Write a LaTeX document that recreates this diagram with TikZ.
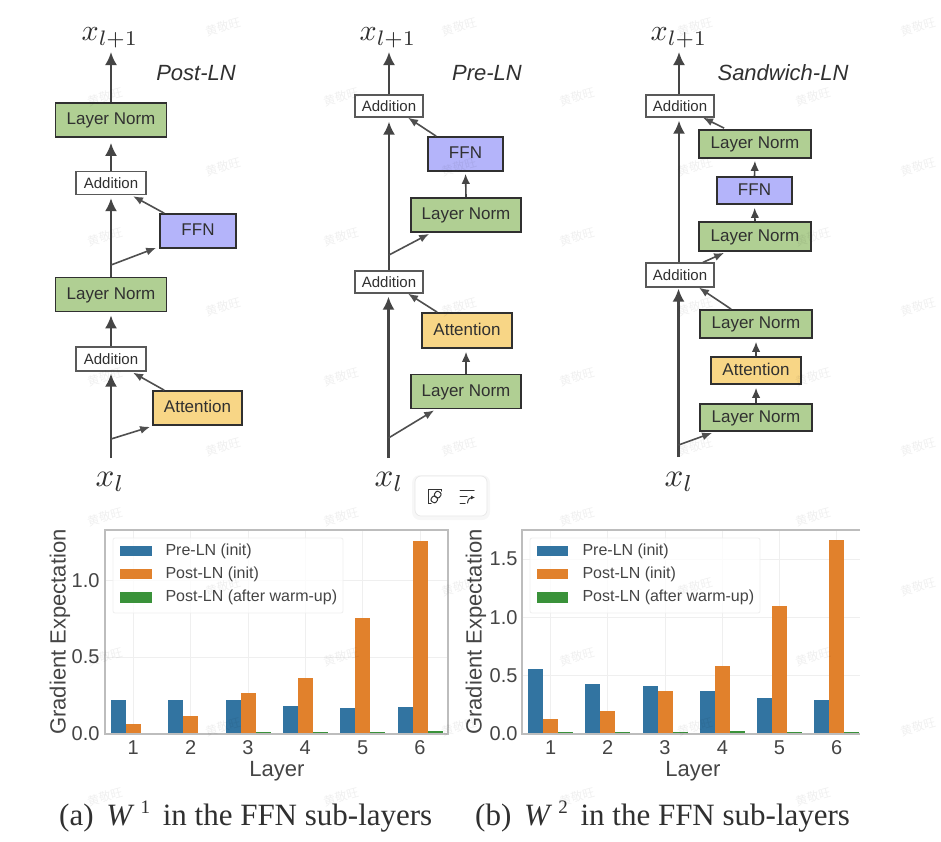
\documentclass[tikz,border=0pt]{standalone}
\usepackage{fontspec}
\setmainfont{Liberation Serif}
\setsansfont{Liberation Sans}
\newfontfamily\cjk{Noto Sans CJK SC}
\usetikzlibrary{arrows.meta,calc}
\definecolor{ink}{HTML}{303030}
\definecolor{lngreen}{HTML}{B0CF93}
\definecolor{ffnblue}{HTML}{B4B4FA}
\definecolor{attyellow}{HTML}{F8D686}
\definecolor{barblue}{HTML}{3274A1}
\definecolor{barorange}{HTML}{E1812C}
\definecolor{bargreen}{HTML}{3A923A}
\definecolor{gridc}{HTML}{EFEFEF}
\definecolor{framec}{HTML}{BDBDBD}
\tikzset{
  every node/.style={text=ink},
  flowbox/.style={draw=ink,line width=1.7pt,font=\sffamily\fontsize{17}{20}\selectfont,inner sep=0pt,text height=12.5pt,text depth=3.5pt,anchor=center},
  lnbox/.style={flowbox,fill=lngreen,minimum width=111pt,minimum height=34pt},
  lnslim/.style={flowbox,fill=lngreen,minimum width=111pt,minimum height=28pt},
  ffnbox/.style={flowbox,fill=ffnblue},
  attbox/.style={flowbox,fill=attyellow},
  addbox/.style={draw=ink!80,line width=1.3pt,fill=white,font=\sffamily\fontsize{15}{18}\selectfont,inner sep=0pt,text height=11pt,text depth=0pt,minimum width=68pt,minimum height=22pt},
  conn/.style={draw=ink!90,line width=2.2pt,-{Latex[length=13pt,width=12pt]}},
  slimconn/.style={draw=ink!90,line width=1.6pt,-{Latex[length=10pt,width=8.5pt]}},
  diagconn/.style={draw=ink!85,line width=1.6pt,-{Latex[length=10pt,width=8pt]}},
  titlelab/.style={font=\sffamily\itshape\fontsize{22}{24}\selectfont},
  ticklab/.style={font=\sffamily\fontsize{20}{22}\selectfont,text=ink!90},
  axislab/.style={font=\sffamily\fontsize{22}{24}\selectfont,text=ink!90},
  leglab/.style={font=\sffamily\fontsize{16}{18}\selectfont,anchor=west,text=ink!90},
  captionlab/.style={font=\fontsize{31}{33}\selectfont,anchor=base west,inner sep=0pt},
  wmark/.style={font=\cjk\fontsize{12}{14}\selectfont,text=black,opacity=.06,rotate=15},
  gridl/.style={draw=gridc,line width=1pt},
  framel/.style={draw=framec,line width=1.2pt},
}
\newcommand{\capW}[1]{\hspace{5pt}\textit{W}\hspace{6pt}\raisebox{12pt}{\fontsize{19}{20}\selectfont #1}\hspace{5pt}}
\begin{document}
\begin{tikzpicture}[x=1pt,y=-1pt]
\useasboundingbox (0,0) rectangle (941,841);
\fill[white] (0,0) rectangle (941,841);

%% ---------- Post-LN
\node[titlelab] (t1) at (196,73) {Post-LN};
\node (top1) at (110,38) {\scalebox{3}{$x_{l+1}$}};
\node (bot1) at (110,482) {\scalebox{3.3}{$x_l$}};
\node[lnbox] (a1) at (111,120) {Layer Norm};
\node[addbox,minimum width=70pt,minimum height=23pt] (a2) at (111,183) {Addition};
\node[ffnbox,minimum width=76pt,minimum height=34pt] (a3) at (198,231) {FFN};
\node[lnbox] (a4) at (111,294.5) {Layer Norm};
\node[addbox,minimum width=70pt,minimum height=24pt] (a5) at (111,359) {Addition};
\node[attbox,minimum width=89pt,minimum height=34pt] (a6) at (197.5,408) {Attention};
\coordinate (a7) at (111,458);
\coordinate (a8) at (111,439);
\coordinate (a9) at (111,265);
\coordinate (a10) at (111,52);
\draw[conn] (a1.north) -- (a10);
\draw[conn,shorten >=5pt] (a2.north) -- (a1.south);
\draw[conn,shorten >=3pt] (a4.north) -- (a2.south);
\draw[conn,shorten >=3pt] (a5.north) -- (a4.south);
\draw[conn,shorten >=2pt] (a7) -- (a5.south);
\draw[diagconn] ($(a3.north west)+(5,0)$) -- ($(a2.south)+(22,1)$);
\draw[diagconn] (a9) -- ($(a3.south west)+(-3,-1)$);
\draw[diagconn] ($(a6.north west)+(12,0)$) -- ($(a5.south)+(22,1)$);
\draw[diagconn] (a8) -- ($(a6.south west)+(-2,1)$);

%% ---------- Pre-LN
\node[titlelab] (t2) at (487,73) {Pre-LN};
\node (top2) at (388,38) {\scalebox{3}{$x_{l+1}$}};
\node (bot2) at (389,482) {\scalebox{3.3}{$x_l$}};
\node[addbox] (b1) at (389,106) {Addition};
\node[ffnbox,minimum width=75pt,minimum height=34pt] (b2) at (465.5,154) {FFN};
\node[lnbox,minimum width=110pt] (b3) at (466,215) {Layer Norm};
\node[addbox] (b4) at (389,282) {Addition};
\node[attbox,minimum width=90pt,minimum height=35pt] (b5) at (467,330.5) {Attention};
\node[lnbox,minimum width=110pt] (b6) at (466,391.5) {Layer Norm};
\coordinate (b7) at (388.5,458);
\coordinate (b8) at (388.5,438);
\coordinate (b9) at (389,255);
\coordinate (b10) at (389,52);
\draw[conn] (b1.north) -- (b10);
\draw[conn,shorten >=4pt] (b4.north) -- (b1.south);
\draw[conn,shorten >=3pt] (b7) -- (b7 |- b4.south);
\draw[diagconn] ($(b2.north west)+(9,0)$) -- ($(b1.south)+(19,0)$);
\draw[slimconn,shorten >=2pt] (b3.north) -- (b2.south);
\draw[diagconn] (b9) -- ($(b3.south west)+(19,1)$);
\draw[diagconn] ($(b5.north west)+(16,0)$) -- ($(b4.south)+(19,0)$);
\draw[slimconn,shorten >=3pt] (b6.north) -- (b6.north |- b5.south);
\draw[diagconn] (b8) -- ($(b6.south west)+(24,1)$);

%% ---------- Sandwich-LN
\node[titlelab] (t3) at (783,73) {Sandwich-LN};
\node (top3) at (679,38) {\scalebox{3}{$x_{l+1}$}};
\node (bot3) at (679,482) {\scalebox{3.3}{$x_l$}};
\node[addbox] (c1) at (680,106) {Addition};
\node[lnslim,minimum width=112pt] (c2) at (755,144) {Layer Norm};
\node[ffnbox,minimum width=75pt,minimum height=27pt] (c3) at (754.5,190.5) {FFN};
\node[lnslim,minimum width=112pt,minimum height=29pt] (c4) at (755,236.5) {Layer Norm};
\node[addbox,minimum height=24pt] (c5) at (680,275) {Addition};
\node[lnslim,minimum width=112pt] (c6) at (756,324) {Layer Norm};
\node[attbox,minimum width=90pt,minimum height=27pt] (c7) at (756,370.5) {Attention};
\node[lnslim,minimum width=112pt,minimum height=27pt] (c8) at (756,417.5) {Layer Norm};
\coordinate (c9) at (678.5,457);
\coordinate (c10) at (678.5,445);
\coordinate (c11) at (679,52);
\draw[conn] (c1.north -| c11) -- (c11);
\draw[conn,shorten >=3pt] (c5.north -| c11) -- (c1.south -| c11);
\draw[conn,shorten >=1pt] (c9) -- (c9 |- c5.south);
\draw[diagconn] ($(c2.north west)+(26,-1)$) -- ($(c1.south)+(23,0)$);
\draw[slimconn,shorten >=2pt] (c3.north) -- (c2.south);
\draw[slimconn,shorten >=3pt] (c4.north) -- (c3.south);
\draw[diagconn] ($(c5.north)+(23,0)$) -- ($(c4.south west)+(26,1)$);
\draw[diagconn] ($(c6.north west)+(32,0)$) -- ($(c5.south)+(19,0)$);
\draw[slimconn,shorten >=3pt] (c7.north) -- (c6.south);
\draw[slimconn,shorten >=3pt] (c8.north) -- (c7.south);
\draw[diagconn] (c10) -- ($(c8.south west)+(13,1)$);

%% ---------- chart (a)
\foreach \g in {133.3,190.7,248,305.3,362.7,420} \draw[gridl] (\g,530) -- (\g,734);
\foreach \g in {657,580.7} \draw[gridl] (105,\g) -- (448,\g);
\foreach \c/\h in {133.3/.22,190.7/.222,248/.22,305.3/.18,362.7/.172,420/.176}
  \fill[barblue] (\c-22.5,734) rectangle (\c-7.5,734-153.3*\h);
\foreach \c/\h in {133.3/.065,190.7/.115,248/.266,305.3/.365,362.7/.755,420/1.26}
  \fill[barorange] (\c-7.5,734) rectangle (\c+7.5,734-153.3*\h);
\foreach \c/\h in {133.3/.004,190.7/.004,248/.014,305.3/.016,362.7/.014,420/.018}
  \fill[bargreen] (\c+7.5,734) rectangle (\c+22.5,734-153.3*\h);
\draw[framel] (105,530) rectangle (448,734);
\foreach \v/\p in {0.0/734,0.5/657,1.0/580.7}
  \node[ticklab,anchor=east] (ya\p) at (103,\p) {\v};
\foreach \v/\p in {1/133.3,2/190.7,3/248,4/305.3,5/362.7,6/420}
  \node[ticklab] (xa\v) at (\p,748) {\v};
\node[axislab] (lxa) at (277,771) {Layer};
\node[axislab,rotate=90] (lya) at (60,632) {Gradient Expectation};
\draw[gridc,fill=white,fill opacity=.8,line width=.8pt,rounded corners=2pt] (113,538) rectangle (343,613);
\fill[barblue] (120,546) rectangle (152,556);
\fill[barorange] (120,569) rectangle (152,579);
\fill[bargreen] (120,592) rectangle (152,603);
\node[leglab] (la1) at (162,551) {Pre-LN (init)};
\node[leglab] (la2) at (162,574) {Post-LN (init)};
\node[leglab] (la3) at (162,597) {Post-LN (after warm-up)};

%% ---------- chart (b)
\foreach \g in {550.7,607.7,665,722.3,779.3,836.7} \draw[gridl] (\g,530) -- (\g,734);
\foreach \g in {675.7,617.3,559} \draw[gridl] (522,\g) -- (860,\g);
\foreach \c/\h in {550.7/.56,607.7/.43,665/.41,722.3/.365,779.3/.305,836.7/.29}
  \fill[barblue] (\c-22.5,734) rectangle (\c-7.5,734-116.7*\h);
\foreach \c/\h in {550.7/.125,607.7/.195,665/.365,722.3/.58,779.3/1.1,836.7/1.66}
  \fill[barorange] (\c-7.5,734) rectangle (\c+7.5,734-116.7*\h);
\foreach \c/\h in {550.7/.02,607.7/.02,665/.02,722.3/.024,779.3/.02,836.7/.02}
  \fill[bargreen] (\c+7.5,734) rectangle (\c+22.5,734-116.7*\h);
\draw[framel] (860,530) -- (522,530) -- (522,734) -- (860,734);
\foreach \v/\p in {0.0/734,0.5/675.7,1.0/617.3,1.5/559}
  \node[ticklab,anchor=east] (yb\p) at (521,\p) {\v};
\foreach \v/\p in {1/550.7,2/607.7,3/665,4/722.3,5/779.3,6/836.7}
  \node[ticklab] (xb\v) at (\p,748) {\v};
\node[axislab] (lxb) at (693,771) {Layer};
\node[axislab,rotate=90] (lyb) at (476,632) {Gradient Expectation};
\draw[gridc,fill=white,fill opacity=.8,line width=.8pt,rounded corners=2pt] (530,538) rectangle (760,613);
\fill[barblue] (537,546) rectangle (568,556);
\fill[barorange] (537,569) rectangle (568,579);
\fill[bargreen] (537,592) rectangle (568,603);
\node[leglab] (lb1) at (579,551) {Pre-LN (init)};
\node[leglab] (lb2) at (579,574) {Post-LN (init)};
\node[leglab] (lb3) at (579,597) {Post-LN (after warm-up)};

%% ---------- captions
\node[captionlab] (capa) at (59,825) {(a) \capW{1} in the FFN sub-layers};
\node[captionlab] (capb) at (475,825) {(b) \capW{2} in the FFN sub-layers};

%% ---------- watermark
\foreach \y in {27,167,307,447,587,727}
  \foreach \x in {223,459,695,918}
    \node[wmark] (wa\x-\y) at (\x,\y) {黄敬旺};
\foreach \y in {97,237,377,517,657,797}
  \foreach \x in {105,341,577,813}
    \node[wmark] (wb\x-\y) at (\x,\y) {黄敬旺};

%% ---------- floating toolbar
\fill[black,opacity=.03,rounded corners=8pt] (412,475) rectangle (490,520);
\draw[draw=black!9,fill=white,line width=.7pt,rounded corners=6pt] (415,476) rectangle (487,516);
\draw[black!80,line width=1pt,line cap=round] (441,491) -- (441,489) -- (428,489) -- (428,503) -- (431,503);
\draw[black!80,line width=1pt,rounded corners=2pt,rotate around={-35:(436,497)}] (433,491) rectangle (439,497);
\draw[black!80,line width=1pt,rounded corners=2pt,rotate around={-35:(436,497)}] (433,497) rectangle (439,503);
\draw[black!80,line width=1pt,line cap=round] (460,490) -- (474,490) (460,496.5) -- (467,496.5) (460,503) -- (465,503);
\draw[black!80,line width=1pt,line cap=round,-{Latex[length=4pt,width=4pt]}] (467.5,503) .. controls (468,499) and (470,497.5) .. (475,497.5);
\end{tikzpicture}
\end{document}
